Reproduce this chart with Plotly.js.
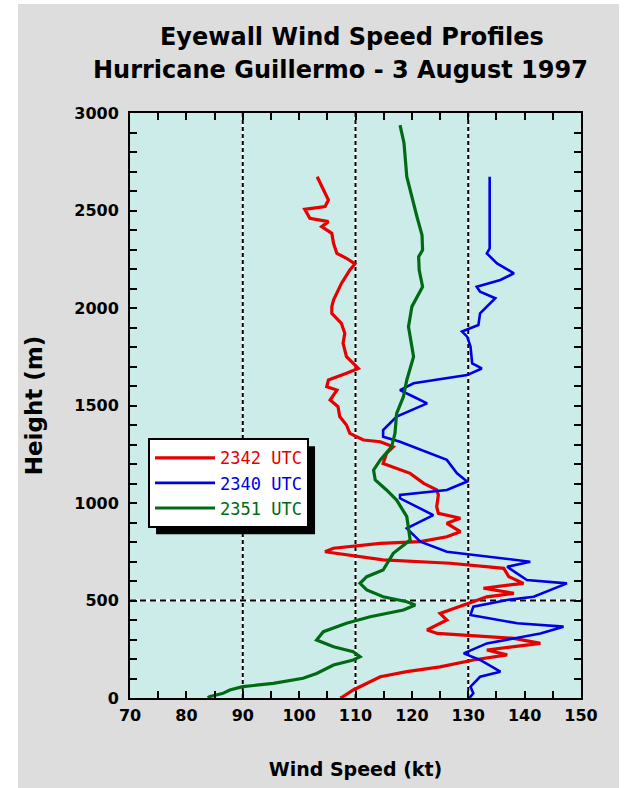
<!DOCTYPE html>
<html>
<head>
<meta charset="utf-8">
<script src="https://cdn.plot.ly/plotly-3.0.1.min.js"></script>
<style>
  html, body { margin:0; padding:0; background:#ffffff; width:627px; height:788px; overflow:hidden; }
  #bg { position:absolute; left:18px; top:4px; width:601px; height:784px; background:#dcdddc; }
  #chart { position:absolute; left:0; top:0; width:627px; height:788px; }
</style>
</head>
<body>
<div id="bg"></div>
<div id="chart"></div>
<script>
// ---- data (height in m, wind speed in kt) ----
const seriesNames = ["2342 UTC", "2340 UTC", "2351 UTC"];

const redHeight = [0,7,41,75,109,135,160,195,221,246,280,306,331,349,400,434,485,519,537,563,588,622,665,691,708,733,750,768,793,802,827,853,896,922,947,981,1041,1067,1101,1152,1186,1203,1254,1288,1314,1323,1357,1400,1443,1494,1528,1579,1596,1631,1665,1690,1750,1819,1870,1921,1973,2007,2041,2075,2126,2195,2226,2255,2280,2332,2383,2417,2443,2451,2460,2506,2520,2554,2622,2673];
const redSpeed  = [107.3,107.8,109.6,112.0,114.4,119.1,125.0,130.9,136.9,133.3,142.8,138.1,124.5,122.7,126.2,125.0,129.8,133.3,138.1,132.7,139.8,137.2,136.3,126.8,114.9,109.0,104.6,106.1,114.4,121.5,126.2,128.6,126.2,128.6,124.7,124.4,124.7,124.4,122.1,119.7,116.7,114.9,115.5,116.7,114.4,111.4,109.0,108.4,107.2,106.9,105.5,106.7,104.9,105.2,108.4,110.5,108.4,107.8,108.1,107.5,105.8,105.8,106.1,106.7,107.5,109.0,109.9,108.4,106.7,106.1,105.8,104.0,105.2,103.7,101.9,101.0,104.6,105.2,104.0,103.2];

const blueHeight = [0,24,58,109,135,195,229,280,331,366,383,426,468,503,519,588,605,673,699,725,750,802,870,938,998,1024,1041,1067,1110,1152,1221,1272,1314,1340,1374,1443,1486,1511,1545,1579,1614,1640,1656,1690,1716,1802,1853,1879,1913,1973,2007,2050,2084,2109,2144,2178,2229,2280,2306,2673];
const blueSpeed  = [130.2,130.9,130.4,132.1,135.7,132.1,129.2,133.3,142.8,146.9,138.7,130.4,130.9,136.9,141.6,147.5,140.4,136.9,141.0,133.3,126.2,121.5,119.1,123.8,119.7,117.9,117.9,126.2,129.8,128.0,126.2,121.5,117.9,114.9,114.9,117.3,120.9,122.7,120.3,117.9,120.3,126.2,129.8,132.4,130.7,130.4,129.8,128.9,131.8,132.1,133.3,134.8,132.1,131.5,135.7,138.1,135.1,133.3,133.8,133.8];

const greenHeight = [0,7,24,41,58,75,101,126,169,195,212,237,263,297,340,383,417,451,477,494,519,554,588,622,656,742,810,930,1015,1067,1118,1169,1221,1288,1357,1460,1545,1631,1750,1904,2007,2058,2109,2195,2263,2297,2374,2468,2571,2673,2846,2938];
const greenSpeed  = [83.8,84.1,86.5,87.7,90.0,95.4,100.7,103.1,106.1,109.6,110.8,109.6,106.1,103.1,104.3,108.4,112.6,118.5,120.6,119.1,114.9,112.0,110.8,112.0,114.9,116.7,119.7,119.1,117.3,115.5,113.5,113.2,114.4,116.4,117.0,117.3,118.5,119.1,120.3,119.4,120.0,120.9,121.9,121.3,121.2,121.9,121.8,120.9,120.0,119.1,118.6,117.9];

const xTickVals = [70,75,80,85,90,95,100,105,110,115,120,125,130,135,140,145,150];
const xTickText = ["70","","80","","90","","100","","110","","120","","130","","140","","150"];
const yTickVals = [];
const yTickText = [];
for (let h = 0; h <= 3000; h += 100) { yTickVals.push(h); yTickText.push(h % 500 === 0 ? String(h) : ""); }
const xGrid = [90, 110, 130];
const yGrid = [500];

const colors = ["#e60000", "#0000e6", "#006b14"];

const traces = [
  {x: redSpeed, y: redHeight, mode: "lines", line: {color: colors[0], width: 3.2},
   name: "<span style='color:" + colors[0] + "'>" + seriesNames[0] + "</span>"},
  {x: blueSpeed, y: blueHeight, mode: "lines", line: {color: colors[1], width: 2.6},
   name: "<span style='color:" + colors[1] + "'>" + seriesNames[1] + "</span>"},
  {x: greenSpeed, y: greenHeight, mode: "lines", line: {color: colors[2], width: 3.2},
   name: "<span style='color:" + colors[2] + "'>" + seriesNames[2] + "</span>"}
];

const shapes = [];
xGrid.forEach(v => {
  shapes.push({type: "line", xref: "x", yref: "paper", x0: v, x1: v, y0: 0, y1: 1,
    line: {color: "#ffffff", width: 2}, layer: "below"});
  shapes.push({type: "line", xref: "x", yref: "paper", x0: v, x1: v, y0: 0, y1: 1,
    line: {color: "#000", width: 2, dash: "4px,3px"}, layer: "below"});
});
yGrid.forEach(v => {
  shapes.push({type: "line", xref: "paper", yref: "y", x0: 0, x1: 1, y0: v, y1: v,
    line: {color: "#ffffff", width: 2}, layer: "below"});
  shapes.push({type: "line", xref: "paper", yref: "y", x0: 0, x1: 1, y0: v, y1: v,
    line: {color: "#000", width: 2, dash: "6px,4px"}, layer: "below"});
});
// legend drop shadow (position refined after render from the legend box)
shapes.push({type: "rect", xref: "paper", yref: "paper", x0: 0.049, x1: 0.41, y0: 0.282, y1: 0.4376,
  fillcolor: "#000", line: {width: 0}, layer: "above"});
const shadowIndex = shapes.length - 1;

const tickFont = {family: "DejaVu Sans", size: 16, color: "#000", weight: "bold"};
const titleFont = {family: "DejaVu Sans", size: 24, color: "#000", weight: "bold"};

const M = {l: 130, r: 46, t: 113, b: 90};
const layout = {
  width: 627, height: 788,
  margin: M,
  paper_bgcolor: "rgba(0,0,0,0)",
  plot_bgcolor: "#cbece8",
  showlegend: true,
  title: {text: "Eyewall Wind Speed Profiles", font: titleFont,
          x: 0.492, xanchor: "center", xref: "paper",
          y: 1 - 37 / 788, yanchor: "middle", yref: "container"},
  annotations: [{text: "Hurricane Guillermo - 3 August 1997", font: titleFont, showarrow: false,
    xref: "paper", yref: "paper", x: 0.466, y: (698 - 70) / 585, xanchor: "center", yanchor: "middle"}],
  xaxis: {range: [70, 150], tickvals: xTickVals, ticktext: xTickText, ticks: "inside", ticklen: 7,
    tickwidth: 2, tickcolor: "#000", showgrid: false, zeroline: false, showline: true, linecolor: "#000",
    linewidth: 2, mirror: "ticks", tickfont: tickFont, fixedrange: true, ticklabelstandoff: 2,
    title: {text: "Wind Speed (kt)", font: {family: "DejaVu Sans", size: 19, color: "#000", weight: "bold"}, standoff: 38}},
  yaxis: {range: [0, 3000], tickvals: yTickVals, ticktext: yTickText, ticks: "inside", ticklen: 7,
    tickwidth: 2, tickcolor: "#000", showgrid: false, zeroline: false, showline: true, linecolor: "#000",
    linewidth: 2, mirror: "ticks", tickfont: tickFont, fixedrange: true, ticklabelstandoff: 6,
    title: {text: "Height (m)", font: {family: "DejaVu Sans", size: 23, color: "#000", weight: "bold"}, standoff: 25}},
  legend: {x: 0.04, y: 0.444, xanchor: "left", yanchor: "top", bgcolor: "#ffffff",
    bordercolor: "#000", borderwidth: 2, font: {family: "DejaVu Sans Mono", size: 17, color: "#000"},
    itemwidth: 60, tracegroupgap: 0},
  shapes: shapes
};

Plotly.newPlot("chart", traces, layout, {displayModeBar: false, staticPlot: true}).then(gd => {
  const bg = gd.querySelector(".legend .bg");
  if (!bg) return;
  const r = bg.getBoundingClientRect();
  const c = gd.getBoundingClientRect();
  const W = 627 - M.l - M.r, H = 788 - M.t - M.b;
  const off = 7;
  const left = r.left - c.left + off, right = r.right - c.left + off;
  const top = r.top - c.top + off, bottom = r.bottom - c.top + off;
  const upd = {};
  upd["shapes[" + shadowIndex + "].x0"] = (left - M.l) / W;
  upd["shapes[" + shadowIndex + "].x1"] = (right - M.l) / W;
  upd["shapes[" + shadowIndex + "].y0"] = (788 - M.b - bottom) / H;
  upd["shapes[" + shadowIndex + "].y1"] = (788 - M.b - top) / H;
  return Plotly.relayout(gd, upd);
});
</script>
</body>
</html>
